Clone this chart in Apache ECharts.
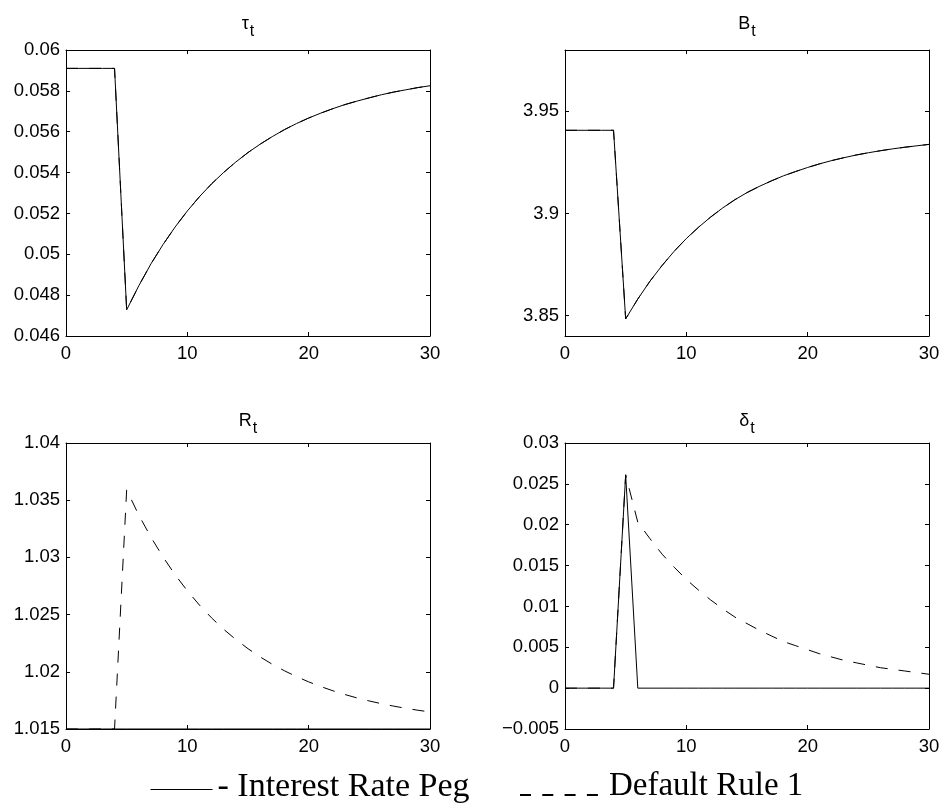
<!DOCTYPE html>
<html>
<head>
<meta charset="utf-8">
<script src="https://cdn.jsdelivr.net/npm/echarts@6/dist/echarts.min.js"></script>
<style>
html,body{margin:0;padding:0;background:#fff;}
#chart{width:944px;height:808px;}
</style>
</head>
<body>
<div id="chart"></div>
<script>
// ---- data ----
const periods = [0,1,2,3,4,5,6,7,8,9,10,11,12,13,14,15,16,17,18,19,20,21,22,23,24,25,26,27,28,29,30];

const tau = [0.0591,0.0591,0.0591,0.0591,0.0591,
  0.04728,0.04846,0.04953,0.05048,0.05134,0.05212,0.05282,0.05345,0.05401,0.05452,
  0.05498,0.05539,0.05576,0.0561,0.0564,0.05667,0.05691,0.05713,0.05733,0.0575,
  0.05766,0.05781,0.05794,0.05805,0.05816,0.05825];

const debt = [3.9407,3.9407,3.9407,3.9407,3.9407,
  3.8484,3.8581,3.8668,3.8745,3.8815,3.8877,3.8932,3.8982,3.9027,3.9067,
  3.9102,3.9132,3.9159,3.9184,3.9205,3.9225,3.9243,3.9259,3.9273,3.9286,
  3.9297,3.9307,3.9316,3.9324,3.9331,3.9338];

const ratePeg = [1.015,1.015,1.015,1.015,1.015,1.015,1.015,1.015,1.015,1.015,1.015,
  1.015,1.015,1.015,1.015,1.015,1.015,1.015,1.015,1.015,1.015,
  1.015,1.015,1.015,1.015,1.015,1.015,1.015,1.015,1.015,1.015];
const rateDefault = [1.015,1.015,1.015,1.015,1.015,
  1.0359,1.0337,1.03177,1.03003,1.02847,1.02708,1.02583,1.02471,1.02371,1.02282,
  1.02202,1.0213,1.02066,1.02009,1.01958,1.01912,1.01871,1.01834,1.01801,1.01771,
  1.01745,1.01721,1.017,1.01681,1.01664,1.01649];

const deltaPeg = [0,0,0,0,0,0.0261,0,0,0,0,0,0,0,0,0,0,0,0,0,0,0,0,0,0,0,0,0,0,0,0,0];
const deltaDefault = [0,0,0,0,0,
  0.0261,0.0203,0.0183,0.0164,0.0148,0.0133,0.0120,0.0108,0.0097,0.0087,
  0.0079,0.0071,0.0064,0.0057,0.0052,0.0047,0.0042,0.0038,0.0034,0.0031,
  0.0028,0.0025,0.0023,0.0021,0.0019,0.0017];

const debtTicks = [3.85, 3.9, 3.95];
const seriesNames = ['Interest Rate Peg', 'Default Rule 1'];
const panelTitles = [['τ','t'], ['B','t'], ['R','t'], ['δ','t']];

// ---- layout ----
const grids = [
  {left:66,  top:50,  width:364, height:286},
  {left:565, top:50,  width:364, height:286},
  {left:66,  top:443, width:364, height:286},
  {left:565, top:443, width:364, height:286}
];
const yRanges = [
  {min:0.046, max:0.06, interval:0.002},
  {min:3.84, max:3.98, custom:debtTicks},
  {min:1.015, max:1.04, interval:0.005},
  {min:-0.005, max:0.03, interval:0.005}
];

const FONT = 'Liberation Sans, Arial, Helvetica, sans-serif';
const fmt = v => String(parseFloat(Number(v).toFixed(6))).replace('-', '\u2212');

const xAxis = [], yAxis = [];
grids.forEach((g, i) => {
  const base = {
    type:'value', gridIndex:i, min:0, max:30, interval:10,
    axisLine:{show:true, onZero:false, lineStyle:{color:'#000', width:1}},
    axisTick:{show:true, inside:true, length:4, lineStyle:{color:'#000', width:1}},
    splitLine:{show:false}
  };
  xAxis.push(Object.assign({}, base, {position:'bottom',
    axisLabel:{show:true, color:'#000', fontFamily:FONT, fontSize:18.5, margin:8, formatter:fmt}}));
  xAxis.push(Object.assign({}, base, {position:'top', axisLabel:{show:false}}));

  const r = yRanges[i];
  const yb = {
    type:'value', gridIndex:i, min:r.min, max:r.max,
    axisLine:{show:true, onZero:false, lineStyle:{color:'#000', width:1}},
    axisTick:{show:true, inside:true, length:4, lineStyle:{color:'#000', width:1}},
    splitLine:{show:false}
  };
  if (r.interval) yb.interval = r.interval;
  if (r.custom) yb.axisTick = Object.assign({}, yb.axisTick, {customValues:r.custom});
  const lblL = {show:true, color:'#000', fontFamily:FONT, fontSize:18.5, margin:6, formatter:fmt};
  if (r.custom) lblL.customValues = r.custom;
  yAxis.push(Object.assign({}, yb, {position:'left', axisLabel:lblL}));
  const lblR = {show:false};
  if (r.custom) lblR.customValues = r.custom;
  yAxis.push(Object.assign({}, yb, {position:'right', axisLabel:lblR}));
});

const pairs = ys => periods.map((t, k) => [t, ys[k]]);
const panelData = [
  [tau, tau],
  [debt, debt],
  [ratePeg, rateDefault],
  [deltaPeg, deltaDefault]
];
const series = [];
panelData.forEach((pd, i) => {
  series.push({
    name:seriesNames[0], type:'line', xAxisIndex:2*i, yAxisIndex:2*i,
    data:pairs(pd[0]), symbol:'none', silent:true, clip:true,
    lineStyle:{color:'#000', width:1, type:'solid'}, itemStyle:{color:'#000'}
  });
  series.push({
    name:seriesNames[1], type:'line', xAxisIndex:2*i, yAxisIndex:2*i,
    data:pairs(pd[1]), symbol:'none', silent:true, clip:true,
    lineStyle:{color:'#000', width:1, type:[12, 11]}, itemStyle:{color:'#000'}
  });
});

const title = panelTitles.map((pt, i) => ({
  text:'{m|' + pt[0] + '}{s|' + pt[1] + '}',
  left: grids[i].left + grids[i].width / 2,
  top: i < 2 ? 14 : 411,
  textAlign:'center',
  padding:0,
  textStyle:{
    fontWeight:'normal',
    rich:{
      m:{fontFamily:FONT, fontSize:18, fontWeight:'normal', lineHeight:20, color:'#000'},
      s:{fontFamily:FONT, fontSize:16, fontWeight:'normal', lineHeight:16, color:'#000', padding:[16,0,0,1]}
    }
  }
}));

const SERIF = 'Liberation Serif, Times New Roman, serif';
const legend = [
  {
    data:[seriesNames[0]], left:150, top:770, padding:0, selectedMode:false,
    itemWidth:62, itemHeight:14,
    lineStyle:{width:1, type:'solid', color:'#000'},
    itemStyle:{opacity:0},
    formatter: n => '{p|- ' + n + '}',
    textStyle:{fontFamily:SERIF, fontSize:34, color:'#000',
      rich:{p:{fontFamily:SERIF, fontSize:34, color:'#000', padding:[0,0,5,0]}}}
  },
  {
    data:[seriesNames[1]], left:519, top:770, padding:0, selectedMode:false,
    itemWidth:78, itemHeight:14,
    lineStyle:{width:2, type:[11, 11.3], color:'#000'},
    itemStyle:{opacity:0},
    formatter: n => '{p|' + n + '}',
    textStyle:{fontFamily:SERIF, fontSize:33, color:'#000',
      rich:{p:{fontFamily:SERIF, fontSize:33, color:'#000', padding:[0,0,17,6]}}}
  }
];

const chart = echarts.init(document.getElementById('chart'), null, {renderer:'canvas'});
chart.setOption({
  animation:false,
  backgroundColor:'#fff',
  title, legend,
  grid: grids.map(g => Object.assign({containLabel:false}, g)),
  xAxis, yAxis, series
});
</script>
</body>
</html>
